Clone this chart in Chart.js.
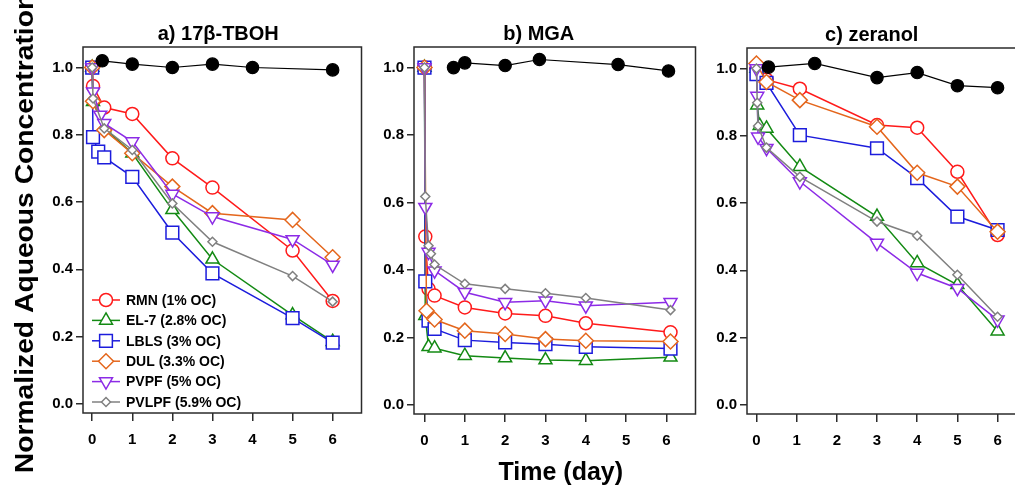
<!DOCTYPE html>
<html>
<head>
<meta charset="utf-8">
<script src="https://cdn.jsdelivr.net/npm/chart.js@4.4.1/dist/chart.umd.min.js"></script>
<style>
  html, body { margin: 0; padding: 0; background: #fff; overflow: hidden; width: 1015px; height: 486px; }
  canvas { position: absolute; top: 0; }
</style>
</head>
<body>
<canvas id="tbohChart" width="372" height="486" style="left:0px"></canvas>
<canvas id="mgaChart" width="334" height="486" style="left:372px"></canvas>
<canvas id="zeranolChart" width="332" height="486" style="left:705px"></canvas>
<script>
// ---- data: [time (day), normalized aqueous concentration] ----
const seriesNames = ['RMN (1% OC)', 'EL-7 (2.8% OC)', 'LBLS (3% OC)', 'DUL (3.3% OC)', 'PVPF (5% OC)', 'PVLPF (5.9% OC)'];
const panelTitles = ['a) 17β-TBOH', 'b) MGA', 'c) zeranol'];
const xTicks = [0, 1, 2, 3, 4, 5, 6];
const yTicks = [0, 0.2, 0.4, 0.6, 0.8, 1.0];

// a) 17β-TBOH
const tbohControl = [[0.25, 1.02], [1, 1.01], [2, 1.0], [3, 1.01], [4, 1.0], [6, 0.993]];
const tbohRMN = [[0, 1.0], [0.02, 0.945], [0.3, 0.881], [1, 0.862], [2, 0.73], [3, 0.643], [5, 0.456], [6, 0.306]];
const tbohEL7 = [[0, 1.0], [0.02, 0.898], [0.3, 0.82], [1, 0.745], [2, 0.577], [3, 0.43], [5, 0.264], [6, 0.185]];
const tbohLBLS = [[0, 1.0], [0.02, 0.793], [0.15, 0.75], [0.3, 0.733], [1, 0.675], [2, 0.509], [3, 0.388], [5, 0.255], [6, 0.182]];
const tbohDUL = [[0, 1.0], [0.02, 0.9], [0.3, 0.814], [1, 0.745], [2, 0.646], [3, 0.567], [5, 0.547], [6, 0.436]];
const tbohPVPF = [[0, 1.0], [0.02, 0.928], [0.2, 0.859], [0.3, 0.834], [1, 0.78], [2, 0.624], [3, 0.557], [5, 0.489], [6, 0.413]];
const tbohPVLPF = [[0, 1.0], [0.02, 0.908], [0.3, 0.819], [1, 0.755], [2, 0.596], [3, 0.482], [5, 0.38], [6, 0.304]];

// b) MGA
const mgaControl = [[0.72, 1.0], [1, 1.014], [2, 1.006], [2.85, 1.024], [4.8, 1.009], [6.05, 0.99]];
const mgaRMN = [[0, 1.0], [0.02, 0.499], [0.1, 0.344], [0.25, 0.324], [1, 0.289], [2, 0.271], [3, 0.264], [4, 0.242], [6.1, 0.215]];
const mgaEL7 = [[0, 1.0], [0.02, 0.264], [0.1, 0.172], [0.25, 0.168], [1, 0.146], [2, 0.139], [3, 0.133], [4, 0.131], [6.1, 0.141]];
const mgaLBLS = [[0, 1.0], [0.02, 0.366], [0.1, 0.25], [0.25, 0.225], [1, 0.192], [2, 0.185], [3, 0.18], [4, 0.172], [6.1, 0.167]];
const mgaDUL = [[0, 1.0], [0.05, 0.279], [0.25, 0.253], [1, 0.22], [2, 0.21], [3, 0.195], [4, 0.19], [6.1, 0.188]];
const mgaPVPF = [[0, 1.0], [0.02, 0.586], [0.1, 0.453], [0.25, 0.398], [1, 0.334], [2, 0.304], [3, 0.309], [4, 0.294], [6.1, 0.304]];
const mgaPVLPF = [[0, 1.0], [0.02, 0.618], [0.1, 0.472], [0.16, 0.448], [0.25, 0.416], [1, 0.359], [2, 0.344], [3, 0.331], [4, 0.317], [6.1, 0.281]];

// c) zeranol
const zerControl = [[0.3, 1.004], [1.45, 1.015], [3, 0.973], [4, 0.988], [5, 0.949], [6, 0.943]];
const zerRMN = [[0, 1.0], [0.25, 0.967], [1.08, 0.94], [3, 0.832], [4, 0.824], [5, 0.693], [6, 0.505]];
const zerEL7 = [[0, 1.0], [0.02, 0.891], [0.08, 0.83], [0.25, 0.822], [1.08, 0.708], [3, 0.56], [4, 0.422], [5, 0.357], [6, 0.219]];
const zerLBLS = [[0, 0.983], [0.25, 0.957], [1.08, 0.802], [3, 0.763], [4, 0.674], [5, 0.56], [6, 0.52]];
const zerDUL = [[0, 1.015], [0.25, 0.96], [1.08, 0.906], [3, 0.827], [4, 0.69], [5, 0.649], [6, 0.515]];
const zerPVPF = [[0, 1.0], [0.02, 0.918], [0.04, 0.797], [0.25, 0.763], [1.08, 0.664], [3, 0.481], [4, 0.392], [5, 0.347], [6, 0.253]];
const zerPVLPF = [[0, 1.0], [0.02, 0.898], [0.04, 0.829], [0.25, 0.765], [1.08, 0.678], [3, 0.545], [4, 0.503], [5, 0.387], [6, 0.262]];

// marker look for each soil, same order as seriesNames
const seriesStyles = [
    { color: '#ff1a1a', pointStyle: 'circle', radius: 6.5, rotation: 0 },
    { color: '#138a13', pointStyle: 'triangle', radius: 7.5, rotation: 0 },
    { color: '#1c1cdc', pointStyle: 'rect', radius: 9, rotation: 0 },
    { color: '#e4661c', pointStyle: 'rectRot', radius: 7.5, rotation: 0 },
    { color: '#8c2be6', pointStyle: 'triangle', radius: 7.5, rotation: 180 },
    { color: '#808080', pointStyle: 'rectRot', radius: 4.5, rotation: 0 }
];

const FONT = "'Liberation Sans', Arial, sans-serif";
const FRAME = '#2b2b2b';
Chart.defaults.font.family = FONT;

const toXY = pts => pts.map(p => ({ x: p[0], y: p[1] }));

function buildDatasets(control, soils) {
    const sets = soils.map((pts, i) => {
        const s = seriesStyles[i];
        return {
            label: seriesNames[i],
            data: toXY(pts),
            order: soils.length - i,   // later soils drawn over earlier ones
            borderColor: s.color,
            borderWidth: 1.5,
            pointStyle: s.pointStyle,
            pointRadius: s.radius,
            pointRotation: s.rotation,
            pointBorderColor: s.color,
            pointBackgroundColor: '#fff',
            pointBorderWidth: 1.5,
            tension: 0,
            clip: false
        };
    });
    // sterile control, filled black circles
    sets.push({
        label: 'Control',
        noKey: true,
        data: toXY(control),
        order: 0,
        borderColor: '#000',
        borderWidth: 1.2,
        pointStyle: 'circle',
        pointRadius: 6.2,
        pointBorderColor: '#000',
        pointBackgroundColor: '#000',
        tension: 0,
        clip: false
    });
    return sets;
}

// frame, panel title, in-plot legend and shared axis labels
const panelDecor = {
    id: 'panelDecor',
    afterDraw(chart, args, opts) {
        const { ctx, chartArea: a } = chart;
        ctx.save();
        ctx.strokeStyle = FRAME;
        ctx.lineWidth = 1.5;
        ctx.strokeRect(a.left, a.top, a.right - a.left, a.bottom - a.top);

        ctx.fillStyle = '#000';
        ctx.textAlign = 'center';
        ctx.textBaseline = 'alphabetic';
        ctx.font = 'bold 20px ' + FONT;
        ctx.fillText(opts.title, (a.left + a.right) / 2 + opts.titleShift, a.top - 7);

        if (opts.legend) {
            ctx.font = 'bold 14px ' + FONT;
            ctx.textAlign = 'left';
            ctx.textBaseline = 'middle';
            let row = 0;
            chart.data.datasets.forEach(ds => {
                if (ds.noKey) return;
                const y = a.bottom - 113 + row * 20.4;
                const x0 = a.left + 9;
                ctx.strokeStyle = ds.borderColor;
                ctx.lineWidth = 1.5;
                ctx.beginPath();
                ctx.moveTo(x0, y);
                ctx.lineTo(x0 + 28, y);
                ctx.stroke();
                ctx.fillStyle = '#fff';
                Chart.helpers.drawPoint(ctx, {
                    pointStyle: ds.pointStyle,
                    rotation: ds.pointRotation,
                    radius: ds.pointRadius,
                    borderWidth: 1.5
                }, x0 + 14, y);
                ctx.fillStyle = '#000';
                ctx.fillText(ds.label, x0 + 34, y + 1);
                row++;
            });
        }

        if (opts.yLabel) {
            ctx.save();
            ctx.translate(33, (a.top + a.bottom) / 2 + 3);
            ctx.rotate(-Math.PI / 2);
            ctx.scale(1.13, 1);
            ctx.font = 'bold 25px ' + FONT;
            ctx.textAlign = 'center';
            ctx.textBaseline = 'alphabetic';
            ctx.fillStyle = '#000';
            ctx.fillText(opts.yLabel, 0, 0);
            ctx.restore();
        }

        if (opts.xLabel) {
            ctx.font = 'bold 25px ' + FONT;
            ctx.textAlign = 'center';
            ctx.textBaseline = 'alphabetic';
            ctx.fillStyle = '#000';
            ctx.fillText(opts.xLabel, (a.left + a.right) / 2 + 6, 480);
        }
        ctx.restore();
    }
};

function createPanel(canvasId, control, soils, cfg) {
    const ctx = document.getElementById(canvasId).getContext('2d');
    return new Chart(ctx, {
        type: 'line',
        data: { datasets: buildDatasets(control, soils) },
        plugins: [panelDecor],
        options: {
            responsive: false,
            animation: false,
            layout: { padding: { top: cfg.top, right: 0, left: 0, bottom: 0 } },
            plugins: {
                legend: { display: false },
                tooltip: { enabled: false },
                panelDecor: {
                    title: cfg.title,
                    titleShift: cfg.titleShift,
                    legend: cfg.legend,
                    yLabel: cfg.yLabel,
                    xLabel: cfg.xLabel
                }
            },
            scales: {
                x: {
                    type: 'linear',
                    min: cfg.xMin,
                    max: 6.72,
                    afterFit: scale => {
                        scale.height = 486 - cfg.bottom;
                        scale.paddingLeft = 0;
                        scale.paddingRight = 0;
                    },
                    afterBuildTicks: scale => { scale.ticks = xTicks.map(v => ({ value: v })); },
                    border: { display: false },
                    grid: { drawOnChartArea: false, drawTicks: true, tickLength: 8, color: FRAME, lineWidth: 1.5 },
                    ticks: { color: '#000', font: { size: 15, weight: 'bold' }, padding: 10, maxRotation: 0 }
                },
                y: {
                    type: 'linear',
                    min: -0.027,
                    max: 1.061,
                    afterFit: scale => {
                        scale.width = cfg.yWidth;
                        scale.paddingTop = 0;
                        scale.paddingBottom = 0;
                    },
                    afterBuildTicks: scale => { scale.ticks = yTicks.map(v => ({ value: v })); },
                    border: { display: false },
                    grid: { drawOnChartArea: false, drawTicks: true, tickLength: 7, color: FRAME, lineWidth: 1.5 },
                    ticks: {
                        color: '#000',
                        font: { size: 15, weight: 'bold' },
                        padding: 3,
                        callback: v => v.toFixed(1)
                    }
                }
            }
        }
    });
}

document.addEventListener('DOMContentLoaded', () => {
    createPanel('tbohChart', tbohControl,
        [tbohRMN, tbohEL7, tbohLBLS, tbohDUL, tbohPVPF, tbohPVLPF],
        { title: panelTitles[0], titleShift: -4, top: 47, bottom: 413, yWidth: 83, xMin: -0.23,
          legend: true, yLabel: 'Normalized Aqueous Concentration' });
    createPanel('mgaChart', mgaControl,
        [mgaRMN, mgaEL7, mgaLBLS, mgaDUL, mgaPVPF, mgaPVLPF],
        { title: panelTitles[1], titleShift: -16, top: 47, bottom: 414, yWidth: 42, xMin: -0.26,
          xLabel: 'Time (day)' });
    createPanel('zeranolChart', zerControl,
        [zerRMN, zerEL7, zerLBLS, zerDUL, zerPVPF, zerPVLPF],
        { title: panelTitles[2], titleShift: -15, top: 48, bottom: 414, yWidth: 42, xMin: -0.235 });
});
</script>
</body>
</html>
